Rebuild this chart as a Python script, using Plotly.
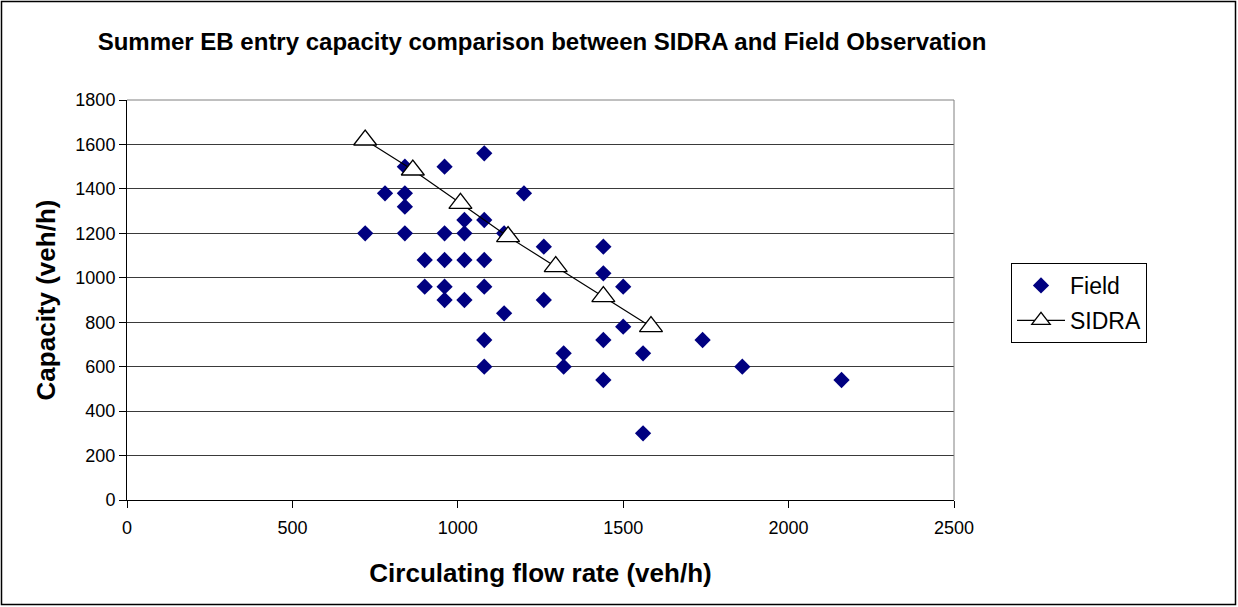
import plotly.graph_objects as go

field_x = [720, 780, 840, 840, 840, 840, 900, 900, 960, 960, 960, 960, 960,
           1020, 1020, 1020, 1020, 1080, 1080, 1080, 1080, 1080, 1080,
           1140, 1140, 1200, 1260, 1260, 1320, 1320, 1440, 1440, 1440, 1440,
           1500, 1500, 1560, 1560, 1740, 1860, 2160]
field_y = [1200, 1380, 1500, 1380, 1320, 1200, 1080, 960, 1500, 1200, 1080, 960, 900,
           1260, 1200, 1080, 900, 1560, 1260, 1080, 960, 720, 600,
           1200, 840, 1380, 1140, 900, 660, 600, 1140, 1020, 720, 540,
           960, 780, 660, 300, 720, 600, 540]

sidra_x = [720, 864, 1008, 1152, 1296, 1440, 1584]
sidra_y = [1620, 1485, 1335, 1185, 1050, 915, 780]

x_ticks = [0, 500, 1000, 1500, 2000, 2500]
y_ticks = [0, 200, 400, 600, 800, 1000, 1200, 1400, 1600, 1800]

L, R, T, B = 127, 954, 100, 500
W, H = 1238, 607
pw, ph = R - L, B - T

def px(xp):
    return (xp - L) / pw

def py(yp):
    return (B - yp) / ph

FONT = "Liberation Sans, Arial, sans-serif"

fig = go.Figure()
fig.add_trace(go.Scatter(
    x=field_x, y=field_y, mode="markers", name="Field", legendgroup="a",
    marker=dict(symbol="diamond", size=12.5, color="#000080",
                line=dict(width=0)),
))
fig.add_trace(go.Scatter(
    x=sidra_x, y=sidra_y, mode="lines+markers", name="SIDRA", legendgroup="b",
    line=dict(color="black", width=1.2),
    marker=dict(symbol="triangle-up", size=20, color="white",
                line=dict(color="black", width=1.3)),
))

fig.update_layout(
    width=W, height=H,
    margin=dict(l=L, r=W - R, t=T, b=H - B),
    paper_bgcolor="white", plot_bgcolor="white",
    font=dict(family=FONT, color="black", size=18),
    title=dict(text="<b>Summer EB entry capacity comparison between SIDRA and Field Observation</b>",
               x=px(542), xref="paper", xanchor="center",
               y=1 - 42 / H, yanchor="middle",
               font=dict(size=24)),
    showlegend=True,
    legend=dict(x=px(1011), y=py(263), xanchor="left", yanchor="top",
                xref="paper", yref="paper",
                bordercolor="black", borderwidth=1, bgcolor="white",
                font=dict(size=23), itemwidth=48, tracegroupgap=2,
                traceorder="grouped"),
    xaxis=dict(range=[0, 2500], tickvals=x_ticks, showgrid=False, zeroline=False,
               showline=True, linecolor="black", linewidth=1,
               ticks="outside", ticklen=7, tickcolor="black",
               tickfont=dict(size=18), ticklabelstandoff=4,
               title=dict(text="<b>Circulating flow rate (veh/h)</b>", font=dict(size=26),
                          standoff=27)),
    yaxis=dict(range=[0, 1800], tickvals=y_ticks, showgrid=True, gridcolor="#3a3a3a",
               gridwidth=1, zeroline=False,
               showline=True, linecolor="black", linewidth=1,
               ticks="outside", ticklen=7, tickcolor="black",
               tickfont=dict(size=18),
               title=dict(text="<b>Capacity (veh/h)</b>", font=dict(size=26),
                          standoff=12)),
    shapes=[
        dict(type="line", xref="paper", yref="paper", x0=1, x1=1, y0=0, y1=1,
             line=dict(color="#808080", width=1)),
        dict(type="line", xref="paper", yref="paper", x0=0, x1=1, y0=1, y1=1,
             line=dict(color="#808080", width=1)),
        dict(type="rect", xref="paper", yref="paper",
             x0=px(1.5), x1=px(W - 2.5), y0=py(1.5), y1=py(H - 2.5),
             line=dict(color="black", width=1.5), fillcolor="rgba(0,0,0,0)",
             layer="below"),
    ],
)

fig.write_html("out.html", config={"displayModeBar": False},
               post_script="document.body.style.margin='0px';document.body.style.overflow='hidden';")
